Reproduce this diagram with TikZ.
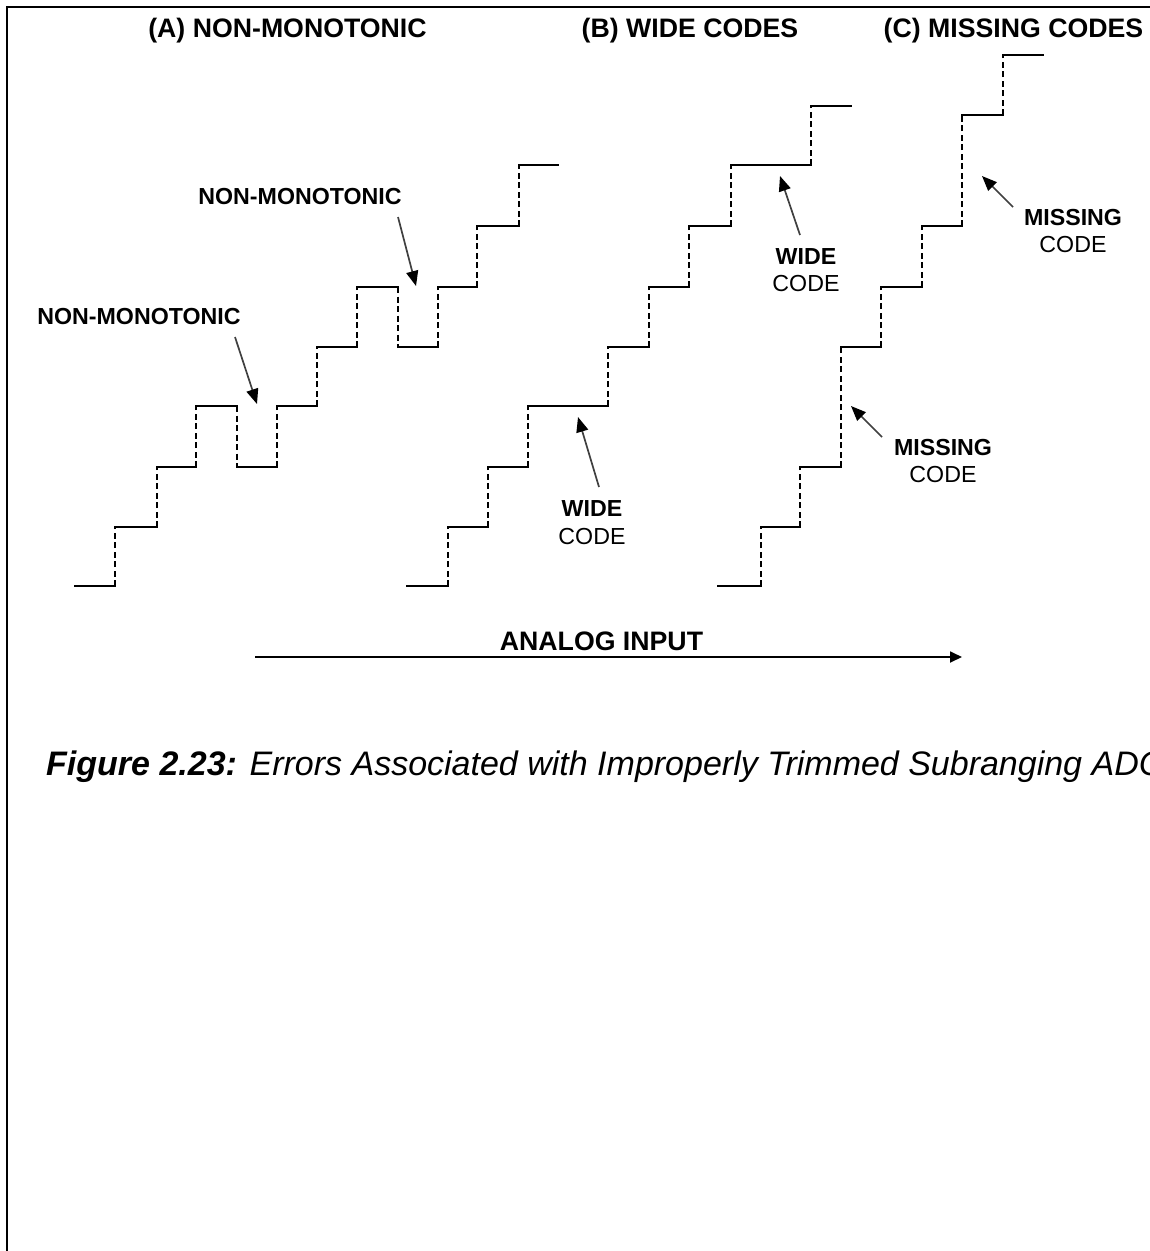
\documentclass[tikz,border=0pt]{standalone}
\usepackage{fontspec}
\setmainfont{Liberation Sans}
\usetikzlibrary{arrows.meta}

\tikzset{
  tread/.style={line width=1.9pt, line cap=rect},
  riser/.style={line width=1.8pt, dash pattern=on 6pt off 3.5pt},
  callout/.style={line width=1.7pt, draw=black!75, -{Triangle[length=15pt,width=12pt,color=black,fill=black]}},
  heading/.style={font=\fontsize{26.7}{30}\selectfont\bfseries, inner sep=0pt, anchor=base},
  tag/.style={font=\fontsize{23.2}{27.5}\selectfont, inner sep=0pt, align=center},
  frameline/.style={line width=2.6pt}
}

\begin{document}
\begin{tikzpicture}[x=1pt, y=-1pt]
\useasboundingbox (0,0) rectangle (1150,1251);

% page frame (left and top edges)
\draw[frameline] (7,1251) -- (7,7) -- (1150,7);

% panel headings
\node[heading] (ttlA) at (287.5,37) {(A) NON-MONOTONIC};
\node[heading] (ttlB) at (690,37) {(B) WIDE CODES};
\node[heading] (ttlC) at (1013.5,37) {(C) MISSING CODES};

% (A) staircase with two non-monotonic dips: x0/x1/y0/y1 = tread from x0 to x1 at y0, riser at x1 up to y1
\foreach \xa/\xb/\ya/\yb in {75/115/586/527, 115/157/527/467, 157/196/467/406,
    196/237/406/467, 237/277/467/406, 277/317/406/347, 317/357/347/287,
    357/398/287/347, 398/438/347/287, 438/477/287/226, 477/519/226/165}{
  \draw[tread] (\xa,\ya) -- (\xb,\ya);
  \draw[riser] (\xb,\ya) -- (\xb,\yb);
}
\draw[tread] (519,165) -- (558,165);

% (B) staircase with two wide codes
\foreach \xa/\xb/\ya/\yb in {407/448/586/527, 448/488/527/467, 488/528/467/406,
    528/608/406/347, 608/649/347/287, 649/689/287/226, 689/731/226/165,
    731/811/165/106}{
  \draw[tread] (\xa,\ya) -- (\xb,\ya);
  \draw[riser] (\xb,\ya) -- (\xb,\yb);
}
\draw[tread] (811,106) -- (851,106);

% (C) staircase with two missing codes
\foreach \xa/\xb/\ya/\yb in {718/761/586/527, 761/800/527/467, 800/841/467/347,
    841/881/347/287, 881/922/287/226, 922/962/226/115, 962/1003/115/55}{
  \draw[tread] (\xa,\ya) -- (\xb,\ya);
  \draw[riser] (\xb,\ya) -- (\xb,\yb);
}
\draw[tread] (1003,55) -- (1043,55);

% callout labels
\node[tag, font=\fontsize{23.2}{27.5}\selectfont\bfseries] (nmA) at (139,317) {NON-MONOTONIC};
\node[tag, font=\fontsize{23.2}{27.5}\selectfont\bfseries] (nmB) at (300,197) {NON-MONOTONIC};
\node[tag] (wcA) at (592,522.5) {\textbf{WIDE}\\CODE};
\node[tag] (wcB) at (806,270) {\textbf{WIDE}\\CODE};
\node[tag] (mcA) at (943,461) {\textbf{MISSING}\\CODE};
\node[tag] (mcB) at (1073,231) {\textbf{MISSING}\\CODE};

% callout arrow ends
\coordinate (nmAtail) at (235,337);  \coordinate (nmAtip) at (257,404);
\coordinate (nmBtail) at (398,217);  \coordinate (nmBtip) at (416,286);
\coordinate (wcAtail) at (599,487);  \coordinate (wcAtip) at (578,417);
\coordinate (wcBtail) at (800,235);  \coordinate (wcBtip) at (780,176);
\coordinate (mcAtail) at (882,437);  \coordinate (mcAtip) at (851,406);
\coordinate (mcBtail) at (1013,207); \coordinate (mcBtip) at (982,176);

\draw[callout] (nmAtail) -- (nmAtip);
\draw[callout] (nmBtail) -- (nmBtip);
\draw[callout] (wcAtail) -- (wcAtip);
\draw[callout] (wcBtail) -- (wcBtip);
\draw[callout] (mcAtail) -- (mcAtip);
\draw[callout] (mcBtail) -- (mcBtip);

% input axis
\node[heading] (axlbl) at (601.5,650) {ANALOG INPUT};
\coordinate (axstart) at (255,657);
\coordinate (axend) at (962,657);
\draw[line width=1.8pt, -{Triangle[length=12pt,width=11pt]}] (axstart) -- (axend);

% caption
\node[inner sep=0pt, anchor=base west, font=\fontsize{34}{40}\selectfont\itshape] (cap) at (46,775)
  {\textbf{Figure 2.23:} Errors Associated with Improperly Trimmed Subranging ADC};
\end{tikzpicture}
\end{document}
